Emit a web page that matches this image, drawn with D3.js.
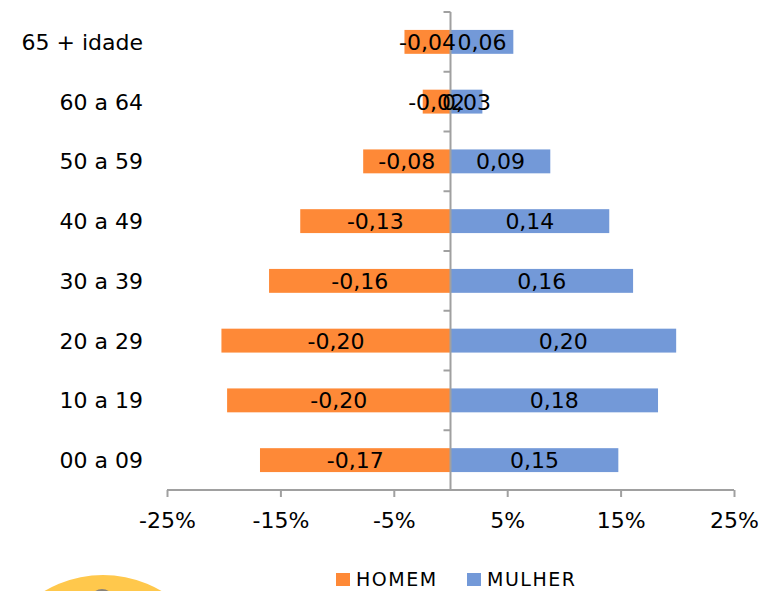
<!DOCTYPE html>
<meta charset="utf-8">
<style>
  body { margin: 0; background: #fff; }
  text { font-family: "DejaVu Sans", sans-serif; fill: #000; }
  .axis path, .axis line { stroke: #a0a0a0; stroke-width: 2px; }
</style>
<body>
<script src="https://d3js.org/d3.v7.min.js"></script>
<script>
  // age groups, top to bottom
  var categories = ["65 + idade", "60 a 64", "50 a 59", "40 a 49", "30 a 39", "20 a 29", "10 a 19", "00 a 09"];
  // share of population (men drawn to the left)
  var homem  = [-0.0406, -0.0245, -0.077, -0.1325, -0.160, -0.202, -0.197, -0.168];
  var mulher = [ 0.0554,  0.0281,  0.088,  0.140,   0.161,  0.199,  0.183,  0.148];
  var ticks = [-0.25, -0.15, -0.05, 0.05, 0.15, 0.25];
  var series = ["HOMEM", "MULHER"];
  var colors = ["#fe8937", "#7399d8"];

  var width = 769, height = 591;

  var svg = d3.select("body").append("svg")
      .attr("width", width)
      .attr("height", height);

  var x = d3.scaleLinear().domain([-0.25, 0.25]).range([167, 734]);
  var y = d3.scaleBand().domain(categories).range([12, 490])
      .paddingInner(0.6).paddingOuter(0.3);

  var fmt = function(v) { return d3.format(".2f")(v).replace("−", "-").replace(".", ","); };

  // decorative circle bottom left
  svg.append("circle").attr("cx", 103).attr("cy", 690).attr("r", 115).attr("fill", "#ffc84c");
  svg.append("circle").attr("cx", 102).attr("cy", 601).attr("r", 12).attr("fill", "#8a8378");

  // bars
  var rows = categories.map(function(c, i) { return {cat: c, h: homem[i], m: mulher[i]}; });

  var g = svg.append("g");
  [["h", 0], ["m", 1]].forEach(function(s) {
    g.selectAll(".bar-" + s[0])
      .data(rows)
      .enter().append("rect")
      .attr("x", function(d) { return x(Math.min(0, d[s[0]])); })
      .attr("width", function(d) { return Math.abs(x(d[s[0]]) - x(0)); })
      .attr("y", function(d) { return y(d.cat); })
      .attr("height", y.bandwidth())
      .attr("fill", colors[s[1]]);
  });

  // x axis
  var xAxis = svg.append("g").attr("class", "axis")
      .attr("transform", "translate(0,490)")
      .call(d3.axisBottom(x).tickValues(ticks).tickSizeOuter(0).tickSize(7)
        .tickFormat(function(d) { return Math.round(d * 100) + "%"; }));
  xAxis.select(".domain").attr("d", "M" + x(-0.25) + ",0H" + x(0.25));
  xAxis.selectAll("text").attr("dy", 0).attr("y", 38)
      .style("font-size", "22px").style("font-family", "DejaVu Sans").attr("fill", "#000");

  // y axis at zero
  var yAxis = svg.append("g").attr("class", "axis");
  yAxis.append("line").attr("x1", x(0)).attr("x2", x(0)).attr("y1", 12).attr("y2", 490);
  var bounds = categories.map(function(c) { return y(c) - y.step() * y.paddingInner() / 2; });
  bounds.push(490);
  yAxis.selectAll(".tk").data(bounds).enter().append("line")
      .attr("x1", x(0) - 7).attr("x2", x(0))
      .attr("y1", function(d) { return d; }).attr("y2", function(d) { return d; });

  // category labels
  svg.selectAll(".cat").data(categories).enter().append("text")
      .attr("x", 143)
      .attr("y", function(d) { return y(d) + y.bandwidth() / 2; })
      .attr("dy", "0.36em")
      .attr("text-anchor", "end")
      .style("font-size", "22px")
      .text(function(d) { return d; });

  // value labels
  [["h", 0], ["m", 1]].forEach(function(s) {
    svg.selectAll(".lbl-" + s[0]).data(rows).enter().append("text")
      .attr("x", function(d) { return (x(d[s[0]]) + x(0)) / 2; })
      .attr("y", function(d) { return y(d.cat) + y.bandwidth() / 2; })
      .attr("dy", "0.36em")
      .attr("text-anchor", "middle")
      .style("font-size", "22px")
      .text(function(d) { return fmt(d[s[0]]); });
  });

  // legend
  var legX = [336, 467];
  var leg = svg.selectAll(".leg").data(series).enter().append("g")
      .attr("transform", function(d, i) { return "translate(" + legX[i] + ",573)"; });
  leg.append("rect").attr("width", 14).attr("height", 13)
      .attr("fill", function(d, i) { return colors[i]; });
  leg.append("text").attr("x", 20).attr("y", 13)
      .style("font-size", "19px").style("letter-spacing", "1.5px")
      .text(function(d) { return d; });
</script>
</body>
</html>
